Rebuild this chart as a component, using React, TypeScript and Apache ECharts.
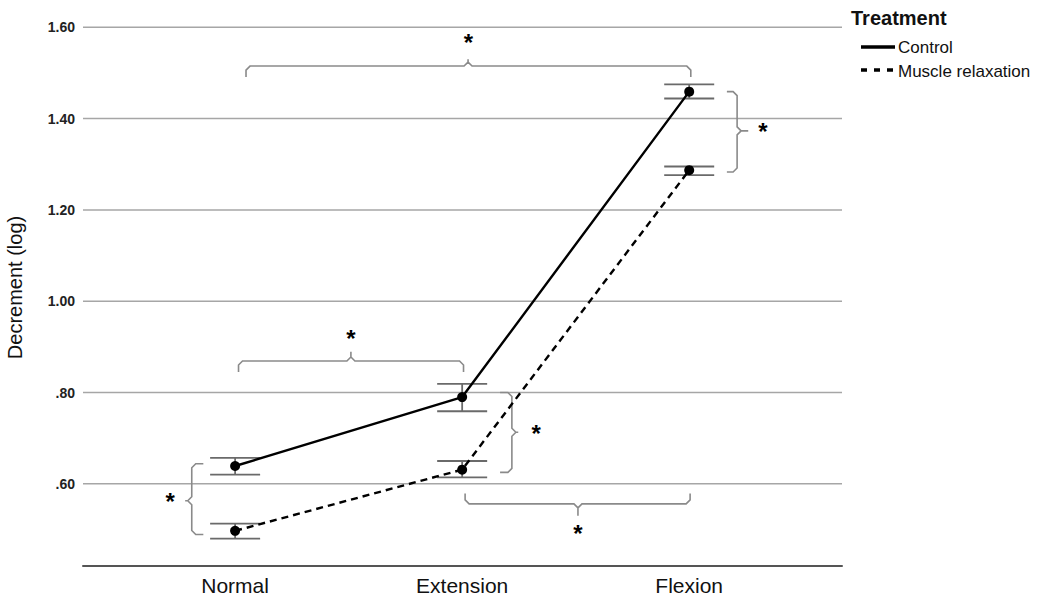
import React, { useEffect, useRef } from "react";
import * as echarts from "echarts";

const categories = ["Normal", "Extension", "Flexion"];
const controlMeans = [0.639, 0.79, 1.459];
const controlLow = [0.62, 0.759, 1.444];
const controlHigh = [0.657, 0.819, 1.475];
const relaxMeans = [0.497, 0.631, 1.287];
const relaxLow = [0.48, 0.614, 1.276];
const relaxHigh = [0.513, 0.65, 1.295];
const yTicks = [0.6, 0.8, 1.0, 1.2, 1.4, 1.6];
const seriesNames = ["Control", "Muscle relaxation"];

// significance brackets (data units): horizontal ones span categories
const hBrackets = [
  { from: 0.048, to: 2.007, mid: 1.026, at: 1.515, tip: 1.491, peak: 1.53 },
  { from: 0.015, to: 1.006, mid: 0.51, at: 0.869, tip: 0.845, peak: 0.889 },
  { from: 1.013, to: 2.004, mid: 1.51, at: 0.556, tip: 0.579, peak: 0.53 },
];
// vertical ones span values
const vBrackets = [
  { from: 0.489, to: 0.644, mid: 0.563, at: -0.191, tip: -0.14, peak: -0.22 },
  { from: 0.625, to: 0.8, mid: 0.713, at: 1.219, tip: 1.167, peak: 1.247 },
  { from: 1.283, to: 1.459, mid: 1.373, at: 2.211, tip: 2.166, peak: 2.26 },
];
const stars = [
  [1.028, 1.566],
  [0.51, 0.918],
  [1.51, 0.492],
  [-0.286, 0.561],
  [1.326, 0.711],
  [2.325, 1.371],
];

const X_MIN = -0.67;
const X_MAX = 2.673;
const FONT = "'Liberation Sans', Arial, Helvetica, sans-serif";

function bracketPts(a0: number, a1: number, am: number, c: number, ct: number, cp: number, r: number) {
  const s = Math.sign(ct - c) || 1;
  const dir = a1 > a0 ? 1 : -1;
  return [
    [a0, ct],
    [a0, c + s * r],
    [a0 + dir * r, c],
    [am - dir * r, c],
    [am, c - s * r],
    [am, cp],
    [am, c - s * r],
    [am + dir * r, c],
    [a1 - dir * r, c],
    [a1, c + s * r],
    [a1, ct],
  ];
}

export default function App() {
  const ref = useRef<HTMLDivElement>(null);
  useEffect(() => {
    if (!ref.current) return;
    const chart = echarts.init(ref.current, undefined, { renderer: "svg" });
    const bracketStyle = { stroke: "#8a8a8a", lineWidth: 1.6, fill: "none" };
    const errStyle = { stroke: "#6a6a6a", lineWidth: 1.8 };

    const makeErr = (lo: number[], hi: number[]) =>
      lo.map((l, i) => [i, l, hi[i]]);

    const errRender = (params: any, api: any) => {
      const x = api.value(0);
      const pLo = api.coord([x, api.value(1)]);
      const pHi = api.coord([x, api.value(2)]);
      const w = 25;
      return {
        type: "group",
        children: [
          { type: "line", shape: { x1: pLo[0], y1: pLo[1], x2: pHi[0], y2: pHi[1] }, style: errStyle },
          { type: "line", shape: { x1: pLo[0] - w, y1: pLo[1], x2: pLo[0] + w, y2: pLo[1] }, style: errStyle },
          { type: "line", shape: { x1: pHi[0] - w, y1: pHi[1], x2: pHi[0] + w, y2: pHi[1] }, style: errStyle },
        ],
      };
    };

    const option: any = {
      animation: false,
      backgroundColor: "#ffffff",
      grid: { left: 83, right: 201, top: 9, bottom: 35, containLabel: false, outerBoundsMode: "none" },
      xAxis: {
        type: "value",
        min: X_MIN,
        max: X_MAX,
        splitLine: { show: false },
        axisTick: { show: false },
        axisLine: { show: true, lineStyle: { color: "#555", width: 2 } },
        axisLabel: {
          customValues: [0, 1, 2],
          formatter: (v: number) => categories[Math.round(v)] ?? "",
          fontSize: 21,
          color: "#111",
          fontFamily: FONT,
          margin: 9,
        },
      },
      yAxis: {
        type: "value",
        min: 0.42,
        max: 1.64,
        name: "Decrement (log)",
        nameLocation: "middle",
        nameRotate: 90,
        nameGap: 58,
        nameTextStyle: { fontSize: 20, color: "#111", fontFamily: FONT },
        splitLine: { show: false },
        axisLine: { show: false },
        axisTick: { show: false },
        axisLabel: {
          customValues: yTicks,
          formatter: (v: number) => (v < 1 ? v.toFixed(2).replace(/^0/, "") : v.toFixed(2)),
          fontSize: 14,
          fontWeight: "bold",
          color: "#222",
          fontFamily: FONT,
          margin: 8,
        },
      },
      series: [
        {
          type: "custom",
          name: "grid",
          silent: true,
          z: 0,
          data: yTicks.map((v) => [X_MIN, v]),
          renderItem: (params: any, api: any) => {
            const v = api.value(1);
            const a = api.coord([X_MIN, v]);
            const b = api.coord([X_MAX, v]);
            return {
              type: "line",
              shape: { x1: a[0], y1: a[1], x2: b[0], y2: b[1] },
              style: { stroke: "#a6a6a6", lineWidth: 1.5 },
            };
          },
        },
        {
          type: "custom",
          name: "hBrackets",
          silent: true,
          z: 1,
          data: hBrackets.map((b) => [b.mid, b.at]),
          renderItem: (params: any, api: any) => {
            const b = hBrackets[params.dataIndex];
            const y = api.coord([b.mid, b.at])[1];
            const yt = api.coord([b.mid, b.tip])[1];
            const yp = api.coord([b.mid, b.peak])[1];
            const x0 = api.coord([b.from, b.at])[0];
            const x1 = api.coord([b.to, b.at])[0];
            const xm = api.coord([b.mid, b.at])[0];
            const pts = bracketPts(x0, x1, xm, y, yt, yp, 4).map((p) => [p[0], p[1]]);
            return { type: "polyline", shape: { points: pts }, style: bracketStyle };
          },
        },
        {
          type: "custom",
          name: "vBrackets",
          silent: true,
          z: 1,
          data: vBrackets.map((b) => [b.at, b.mid]),
          renderItem: (params: any, api: any) => {
            const b = vBrackets[params.dataIndex];
            const x = api.coord([b.at, b.mid])[0];
            const xt = api.coord([b.tip, b.mid])[0];
            const xp = api.coord([b.peak, b.mid])[0];
            const y0 = api.coord([b.at, b.from])[1];
            const y1 = api.coord([b.at, b.to])[1];
            const ym = api.coord([b.at, b.mid])[1];
            const pts = bracketPts(y0, y1, ym, x, xt, xp, 4).map((p) => [p[1], p[0]]);
            return { type: "polyline", shape: { points: pts }, style: bracketStyle };
          },
        },
        {
          type: "custom",
          name: "errControl",
          silent: true,
          z: 2,
          encode: { x: 0, y: [1, 2] },
          data: makeErr(controlLow, controlHigh),
          renderItem: errRender,
        },
        {
          type: "custom",
          name: "errRelax",
          silent: true,
          z: 2,
          encode: { x: 0, y: [1, 2] },
          data: makeErr(relaxLow, relaxHigh),
          renderItem: errRender,
        },
        {
          type: "line",
          name: seriesNames[0],
          z: 3,
          data: controlMeans.map((v, i) => [i, v]),
          symbol: "circle",
          symbolSize: 10,
          itemStyle: { color: "#000" },
          lineStyle: { color: "#000", width: 2.4, type: "solid" },
        },
        {
          type: "line",
          name: seriesNames[1],
          z: 3,
          data: relaxMeans.map((v, i) => [i, v]),
          symbol: "circle",
          symbolSize: 10,
          itemStyle: { color: "#000" },
          lineStyle: { color: "#000", width: 2.4, type: [7, 5] },
        },
        {
          type: "custom",
          name: "stars",
          silent: true,
          z: 4,
          data: stars,
          renderItem: (params: any, api: any) => {
            const p = api.coord([api.value(0), api.value(1)]);
            return {
              type: "text",
              x: p[0],
              y: p[1],
              style: {
                text: "*",
                fontSize: 24,
                fontWeight: "bold",
                fontFamily: FONT,
                fill: "#000",
                align: "center",
                verticalAlign: "middle",
              },
            };
          },
        },
      ],
      graphic: [
        {
          type: "text",
          left: 851,
          top: 8,
          style: { text: "Treatment", fontSize: 20, fontWeight: "bold", fontFamily: FONT, fill: "#111" },
        },
        {
          type: "line",
          shape: { x1: 861, y1: 47, x2: 895, y2: 47 },
          style: { stroke: "#000", lineWidth: 3.5 },
        },
        {
          type: "text",
          x: 898,
          y: 47,
          style: { text: seriesNames[0], fontSize: 17, fontFamily: FONT, fill: "#111", verticalAlign: "middle" },
        },
        {
          type: "line",
          shape: { x1: 861, y1: 70, x2: 895, y2: 70 },
          style: { stroke: "#000", lineWidth: 3.5, lineDash: [6, 7] },
        },
        {
          type: "text",
          x: 898,
          y: 71,
          style: { text: seriesNames[1], fontSize: 17, fontFamily: FONT, fill: "#111", verticalAlign: "middle" },
        },
      ],
    };
    chart.setOption(option);
    return () => chart.dispose();
  }, []);
  return (
    <div
      ref={ref}
      style={{ position: "fixed", left: 0, top: 0, width: 1043, height: 601, background: "#fff" }}
    />
  );
}
